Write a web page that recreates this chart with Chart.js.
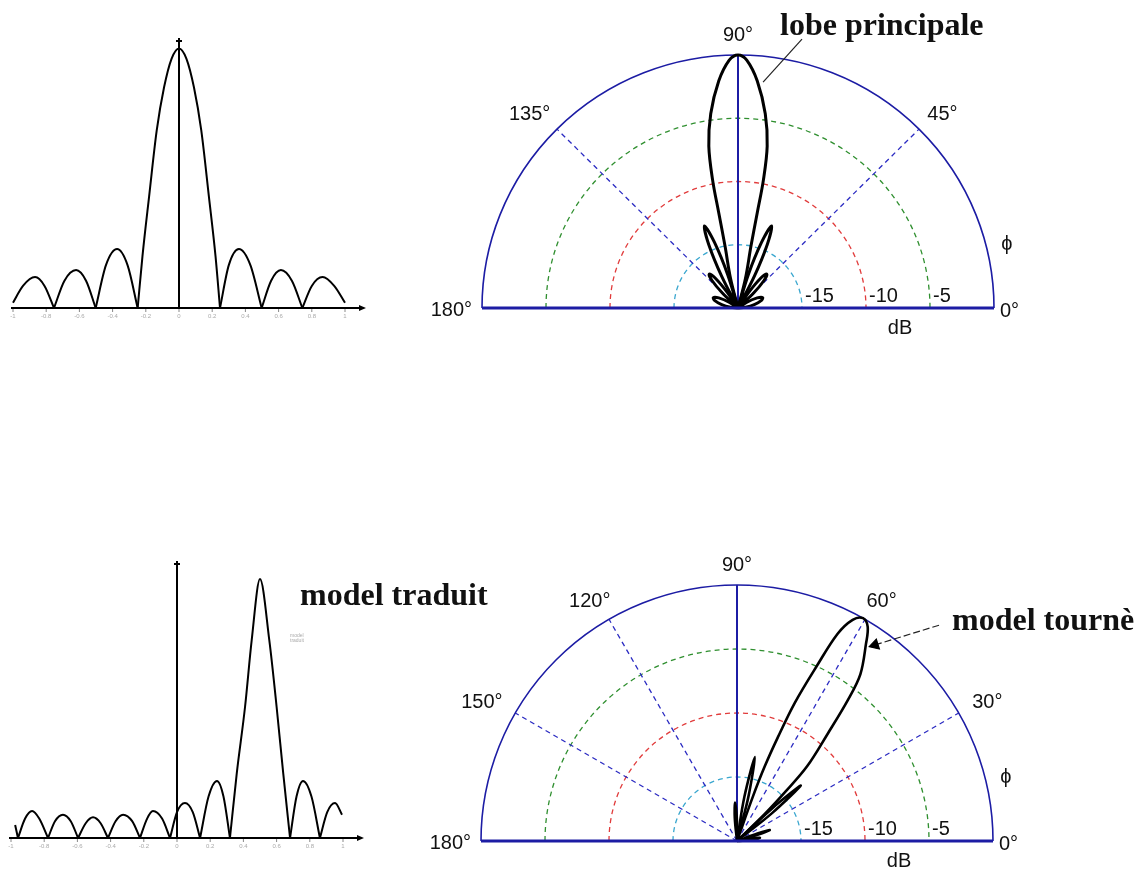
<!DOCTYPE html>
<html lang="fr">
<head>
<meta charset="utf-8">
<title>Lobe principal et modèle tourné</title>
<script src="https://cdn.jsdelivr.net/npm/chart.js@4.4.1/dist/chart.umd.min.js"></script>
<style>
  html, body { margin: 0; padding: 0; background: #fff; }
  body { width: 1145px; height: 871px; position: relative; overflow: hidden; }
  .panneau { position: absolute; }
  .note {
    position: absolute;
    font-family: "Liberation Serif", "Times New Roman", serif;
    font-weight: bold;
    font-size: 32px;
    line-height: 32px;
    color: #111;
    white-space: nowrap;
  }
  .minuscule { position: absolute; font: 5px "Liberation Sans", sans-serif; color: #aaa; line-height: 5px; }
</style>
</head>
<body>

<div class="panneau" style="left:0;top:0"><canvas id="lineaireHaut" width="380" height="330"></canvas></div>
<div class="panneau" style="left:400px;top:0"><canvas id="polaireHaut" width="745" height="345"></canvas></div>
<div class="panneau" style="left:0;top:540px"><canvas id="lineaireBas" width="380" height="330"></canvas></div>
<div class="panneau" style="left:400px;top:540px"><canvas id="polaireBas" width="745" height="331"></canvas></div>

<div class="note" style="left:780px;top:8px">lobe principale</div>
<div class="note" style="left:300px;top:578px">model traduit</div>
<div class="note" style="left:952px;top:603px">model tournè</div>
<div class="minuscule" style="left:290px;top:633px">model<br>traduit</div>

<script>
// Diagramme linéaire centré (haut) : position u et amplitude relative
const uHaut = [-1, -0.94, -0.867, -0.81, -0.753, -0.69, -0.62, -0.56, -0.502, -0.44, -0.373, -0.31, -0.249,
  -0.22, -0.18, -0.134, -0.09, -0.045, 0, 0.045, 0.09, 0.134, 0.18, 0.22, 0.247,
  0.30, 0.361, 0.43, 0.498, 0.555, 0.614, 0.68, 0.743, 0.80, 0.865, 0.935, 1];
const ampHaut = [0.02, 0.085, 0.119, 0.085, 0, 0.105, 0.146, 0.105, 0, 0.165, 0.227, 0.165, 0,
  0.2, 0.43, 0.685, 0.85, 0.96, 1, 0.96, 0.85, 0.685, 0.43, 0.2, 0,
  0.165, 0.227, 0.165, 0, 0.105, 0.146, 0.105, 0, 0.085, 0.119, 0.085, 0.02];

// Diagramme linéaire décalé (bas)
const uBas = [-0.975, -0.958, -0.915, -0.873, -0.83, -0.777, -0.735, -0.687, -0.64, -0.596, -0.55, -0.506, -0.46,
  -0.416, -0.37, -0.325, -0.27, -0.223, -0.18, -0.145, -0.09, -0.042, 0, 0.048, 0.095, 0.139, 0.19, 0.241, 0.28,
  0.319, 0.36, 0.41, 0.45, 0.5, 0.556, 0.6, 0.64, 0.681, 0.72, 0.759, 0.81, 0.861, 0.905, 0.952, 0.994];
const ampBas = [0.05, 0, 0.075, 0.104, 0.075, 0, 0.065, 0.09, 0.065, 0, 0.057, 0.08, 0.057,
  0, 0.065, 0.09, 0.065, 0, 0.075, 0.104, 0.075, 0, 0.1, 0.135, 0.1, 0, 0.16, 0.22, 0.16,
  0, 0.25, 0.507, 0.764, 1, 0.764, 0.507, 0.25, 0, 0.16, 0.22, 0.16, 0, 0.1, 0.135, 0.09];

const ticksU = [-1, -0.8, -0.6, -0.4, -0.2, 0, 0.2, 0.4, 0.6, 0.8, 1];

// Diagrammes polaires (angle en degrés, niveau en dB)
const angleHaut = [0, 6, 12, 18, 23, 28, 34, 41, 44, 47, 50, 53, 56, 60, 63, 65.5, 68, 70.5, 73, 75,
  76, 78.3, 78.7, 78.9, 79.9, 82.1, 85.2, 88, 90, 92,
  94.8, 97.9, 100.1, 101.1, 101.3, 101.7, 104, 105,
  107, 109.5, 112, 114.5, 117, 120, 124, 127, 130, 133, 136, 139, 146, 152, 157, 162, 168, 174, 180];
const dbHaut = [-20, -19.4, -18.7, -18.1, -17.9, -18.3, -19.2, -20, -18.3, -17, -16.5, -17, -18.5, -20, -17.2, -14.5, -13, -14.5, -17.2, -20,
  -17.6, -15, -12.3, -9.7, -7, -4.5, -2, -0.4, 0, -0.4,
  -2, -4.5, -7, -9.7, -12.3, -15, -17.6, -20,
  -17.2, -14.5, -13, -14.5, -17.2, -20, -18.5, -17, -16.5, -17, -18.3, -20, -19.2, -18.3, -17.9, -18.1, -18.7, -19.4, -20];

const angleBas = [0, 4, 8, 12, 15, 17, 18.5, 20, 23, 36, 38.5, 41, 42.8, 43.5,
  44.2, 45.5, 46.8, 49.8, 51.8, 53.5, 56.8, 58.6, 60.5, 62.4, 64.1, 65.5, 67.3, 68.5, 69.6, 70.3, 71,
  75.5, 78, 80.5, 84, 90.5, 93, 95.5, 99, 180];
const dbBas = [-20, -18.7, -18.2, -19.3, -20, -18.2, -17.3, -18.3, -20, -20, -16.5, -13.4, -16.2, -20,
  -17, -14.6, -12, -9, -6, -3.8, -1.6, -0.4, 0, -0.5, -2, -5, -8.3, -11.3, -13.8, -16.3, -20,
  -16.5, -13.3, -16.5, -20, -18.2, -17, -18.2, -20, -20];

const anneauxDb = [-15, -10, -5];
const dbMin = -20;
const rayonsHaut = [45, 135];
const rayonsBas = [30, 60, 120, 150];

const couleursAnneaux = ['#3aa7cf', '#e13c3c', '#2f8f2f'];
const bleu = '#1c1ca4';

// découpe la courbe en arches entre les zéros
function arches(us, amps) {
  const res = [];
  let cur = [];
  us.forEach((u, i) => {
    cur.push({ x: u, y: amps[i] });
    if (amps[i] === 0 && cur.length > 1) {
      res.push(cur);
      cur = [{ x: u, y: 0 }];
    }
  });
  if (cur.length > 1) res.push(cur);
  return res;
}

function versPolaire(angles, niveaux) {
  return angles.map((a, i) => {
    const r = Math.max(niveaux[i] - dbMin, 0) / -dbMin;
    const t = a * Math.PI / 180;
    return { x: r * Math.cos(t), y: r * Math.sin(t) };
  });
}

// un jeu de données par lobe (entre deux passages au centre)
function lobes(angles, niveaux) {
  const pts = versPolaire(angles, niveaux);
  const res = [];
  let cur = [];
  pts.forEach((p, i) => {
    cur.push(p);
    if (niveaux[i] <= dbMin && cur.length > 1) {
      if (cur.length > 2) res.push(cur);
      cur = [p];
    }
  });
  if (cur.length > 2) res.push(cur);
  return res;
}

// Axes et graduations des diagrammes linéaires
const axesLineaires = {
  id: 'axesLineaires',
  afterDatasetsDraw(chart) {
    const { ctx, scales: { x, y } } = chart;
    const y0 = y.getPixelForValue(0);
    const x0 = x.getPixelForValue(0);
    const gauche = x.getPixelForValue(-1) - 2;
    const droite = x.getPixelForValue(1) + 18;
    const haut = y.getPixelForValue(y.max);
    ctx.save();
    ctx.strokeStyle = '#000';
    ctx.fillStyle = '#000';
    ctx.lineWidth = 2;
    ctx.beginPath();
    ctx.moveTo(gauche, y0);
    ctx.lineTo(droite, y0);
    ctx.moveTo(x0, y0);
    ctx.lineTo(x0, haut);
    ctx.moveTo(x0 - 3, haut + 3);
    ctx.lineTo(x0 + 3, haut + 3);
    ctx.stroke();
    ctx.beginPath();
    ctx.moveTo(droite + 3, y0);
    ctx.lineTo(droite - 4, y0 - 3);
    ctx.lineTo(droite - 4, y0 + 3);
    ctx.closePath();
    ctx.fill();
    ctx.lineWidth = 1;
    ctx.strokeStyle = '#888';
    ctx.fillStyle = '#aaa';
    ctx.font = '6px "Liberation Sans", sans-serif';
    ctx.textAlign = 'center';
    ctx.textBaseline = 'top';
    ticksU.forEach(t => {
      const px = x.getPixelForValue(t);
      ctx.beginPath();
      ctx.moveTo(px, y0 + 1);
      ctx.lineTo(px, y0 + 4);
      ctx.stroke();
      ctx.fillText(String(t), px, y0 + 5);
    });
    ctx.restore();
  }
};

// Grille polaire en dB, tracée à partir des échelles du graphique
const grillePolaire = {
  id: 'grillePolaire',
  beforeDatasetsDraw(chart, args, opts) {
    const { ctx, scales: { x, y } } = chart;
    const cx = x.getPixelForValue(0), cy = y.getPixelForValue(0);
    const rx = x.getPixelForValue(1) - cx, ry = cy - y.getPixelForValue(1);
    ctx.save();
    ctx.lineWidth = 1.3;
    ctx.setLineDash([5, 4]);
    anneauxDb.forEach((db, i) => {
      const f = (db - dbMin) / -dbMin;
      ctx.strokeStyle = couleursAnneaux[i];
      ctx.beginPath();
      ctx.ellipse(cx, cy, rx * f, ry * f, 0, Math.PI, 2 * Math.PI);
      ctx.stroke();
    });
    ctx.strokeStyle = '#2b2bc2';
    opts.rayons.forEach(a => {
      const t = a * Math.PI / 180;
      ctx.beginPath();
      ctx.moveTo(cx, cy);
      ctx.lineTo(cx + rx * Math.cos(t), cy - ry * Math.sin(t));
      ctx.stroke();
    });
    ctx.setLineDash([]);
    ctx.strokeStyle = bleu;
    ctx.lineWidth = 1.6;
    ctx.beginPath();
    ctx.ellipse(cx, cy, rx, ry, 0, Math.PI, 2 * Math.PI);
    ctx.stroke();
    ctx.lineWidth = 2;
    ctx.beginPath();
    ctx.moveTo(cx, cy);
    ctx.lineTo(cx, cy - ry);
    ctx.stroke();

    // étiquettes
    ctx.fillStyle = '#111';
    ctx.font = '20px "Liberation Sans", Arial, sans-serif';
    ctx.textBaseline = 'middle';
    ctx.textAlign = 'center';
    opts.etiquettes.forEach(a => {
      const t = a * Math.PI / 180;
      const texte = a + '°';
      const w = ctx.measureText(texte).width;
      ctx.fillText(texte, cx + rx * 1.07 * Math.cos(t) + Math.cos(t) * w / 2, cy - ry * 1.07 * Math.sin(t) - 2);
    });
    ctx.textAlign = 'right';
    ctx.fillText('180°', cx - rx - 10, cy + 2);
    ctx.textAlign = 'left';
    ctx.fillText('0°', cx + rx + 6, cy + 3);
    ctx.textAlign = 'center';
    ctx.fillText('dB', cx + rx * 0.633, cy + 20);
    ctx.fillText('ϕ', cx + rx * 1.05, cy - ry * 0.25);
    ctx.textAlign = 'left';
    ctx.textBaseline = 'alphabetic';
    anneauxDb.forEach(db => {
      const f = (db - dbMin) / -dbMin;
      ctx.fillText(String(db), cx + rx * f + 3, cy - 6);
    });
    ctx.restore();
  },
  afterDatasetsDraw(chart) {
    const { ctx, scales: { x, y } } = chart;
    const cy = y.getPixelForValue(0);
    ctx.save();
    ctx.strokeStyle = bleu;
    ctx.lineWidth = 3;
    ctx.beginPath();
    ctx.moveTo(x.getPixelForValue(-1), cy);
    ctx.lineTo(x.getPixelForValue(1), cy);
    ctx.stroke();
    ctx.restore();
  }
};

function graphiqueLineaire(id, us, amps, padding, yMax) {
  return new Chart(document.getElementById(id), {
    type: 'scatter',
    data: {
      datasets: arches(us, amps).map(pts => ({
        data: pts,
        showLine: true,
        borderColor: '#000',
        borderWidth: 2,
        pointRadius: 0,
        cubicInterpolationMode: 'monotone',
        clip: false
      }))
    },
    options: {
      responsive: false,
      animation: false,
      layout: { padding },
      plugins: { legend: { display: false }, tooltip: { enabled: false } },
      scales: {
        x: { type: 'linear', min: -1, max: 1, display: false },
        y: { min: 0, max: yMax, display: false }
      }
    },
    plugins: [axesLineaires]
  });
}

function graphiquePolaire(id, angles, niveaux, padding, rayons, etiquettes, renvoi, epaisseur) {
  const jeux = lobes(angles, niveaux).map(pts => ({
    data: pts,
    showLine: true,
    borderColor: '#000',
    borderWidth: epaisseur,
    pointRadius: 0,
    tension: 0.35,
    borderJoinStyle: 'round',
    clip: false
  }));
  jeux.push(renvoi);
  return new Chart(document.getElementById(id), {
    type: 'scatter',
    data: { datasets: jeux },
    options: {
      responsive: false,
      animation: false,
      layout: { padding },
      plugins: {
        legend: { display: false },
        tooltip: { enabled: false },
        grillePolaire: { rayons, etiquettes }
      },
      scales: {
        x: { type: 'linear', min: -1, max: 1, display: false },
        y: { min: 0, max: 1, display: false }
      }
    },
    plugins: [grillePolaire]
  });
}

graphiqueLineaire('lineaireHaut', uHaut, ampHaut, { left: 13, right: 35, top: 38, bottom: 22 }, 1.04);
graphiqueLineaire('lineaireBas', uBas, ampBas, { left: 11, right: 37, top: 21, bottom: 32 }, 1.07);

graphiquePolaire('polaireHaut', angleHaut, dbHaut, { left: 82, right: 151, top: 55, bottom: 37 },
  rayonsHaut, [45, 90, 135],
  {
    data: [{ x: 0.098, y: 0.893 }, { x: 0.25, y: 1.063 }],
    showLine: true, borderColor: '#222', borderWidth: 1.2, pointRadius: 0, clip: false
  }, 3);

const pointeFleche = { x: 0.539, y: 0.766 };
const queueFleche = { x: 0.793, y: 0.844 };
const rotationFleche = Math.atan2(pointeFleche.y - queueFleche.y, pointeFleche.x - queueFleche.x) * -180 / Math.PI + 90;

graphiquePolaire('polaireBas', angleBas, dbBas, { left: 81, right: 152, top: 45, bottom: 30 },
  rayonsBas, [30, 60, 90, 120, 150],
  {
    data: [pointeFleche, queueFleche],
    showLine: true, borderColor: '#222', borderWidth: 1.2, borderDash: [7, 3],
    pointStyle: 'triangle', pointRadius: [6, 0], rotation: rotationFleche,
    pointBackgroundColor: '#000', pointBorderColor: '#000', clip: false
  }, 2.6);
</script>
</body>
</html>
